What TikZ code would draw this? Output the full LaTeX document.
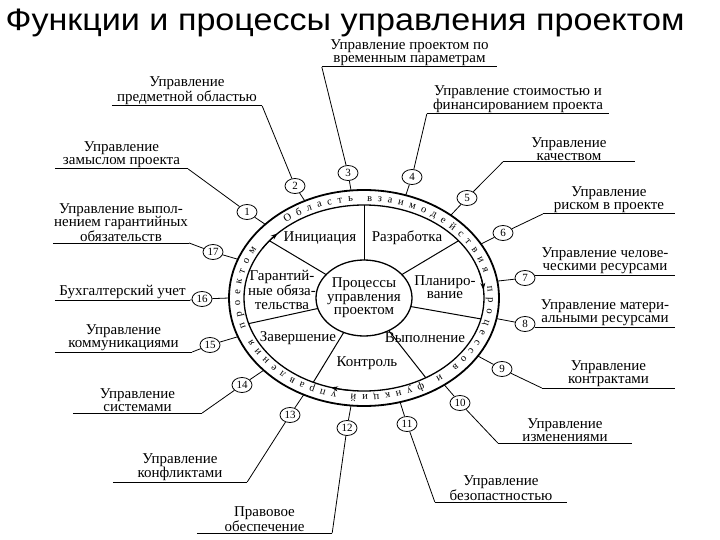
\documentclass[tikz,border=0pt]{standalone}
\usepackage{fontspec}
\setmainfont{Liberation Serif}
\newfontfamily\titlefont{Liberation Sans}[FakeStretch=1.1]
\usetikzlibrary{shapes.geometric,calc,decorations.text,arrows.meta}
\newcommand\ringfnt{\fontsize{10.5}{10.5}\selectfont}

\begin{document}
\begin{tikzpicture}[x=1pt,y=-1pt,
	numcirc/.style={draw,ellipse,line width=0.8pt,inner sep=0pt,minimum width=20,minimum height=15,font=\fontsize{11}{11}\selectfont},
	fnlabel/.style={align=center,inner sep=1pt,anchor=south,font=\fontsize{15}{13.5}\selectfont},
	phase/.style={align=center,inner sep=0pt,font=\fontsize{15}{13.5}\selectfont},
	uline/.style={line width=1pt},
	conn/.style={line width=0.8pt},
	circarrow/.style={line width=1pt,-{Stealth[length=7pt,width=5pt]}}]
	\useasboundingbox (0,0) rectangle (720,540);
	\fill[white] (0,0) rectangle (720,540);
	\node[font=\titlefont\fontsize{31}{31}\selectfont,anchor=base] (title) at (345,31) {Функции и процессы управления проектом};

	\coordinate (C) at (364,298);
	\draw[line width=1.8pt] (C) ellipse [x radius=135,y radius=108];
	\draw[line width=1.3pt] (C) ellipse [x radius=120,y radius=93];
	\draw[line width=1.3pt] (C) ellipse [x radius=48,y radius=38];
	\node[phase] (core) at (C) {Процессы\\управления\\проектом};
	\foreach \a in {270,322,13,59,115,164,218}
		\draw[line width=1pt] ($(C)+(\a:48 and 38)$) -- ($(C)+(\a:120 and 93)$);
	\draw[circarrow] ($(C)+(212:120 and 93)$) arc[start angle=212,end angle=224,x radius=120,y radius=93];
	\draw[circarrow] ($(C)+(343:120 and 93)$) arc[start angle=343,end angle=355,x radius=120,y radius=93];
	\draw[circarrow] ($(C)+(94:120 and 93)$) arc[start angle=94,end angle=106,x radius=120,y radius=93];
	\path[decorate,decoration={text along path,text align={fit to path},
		text={|\ringfnt|Область взаимодействия процессов и функций управления проектом}}]
		($(C)+(231:124 and 97)$) arc[start angle=231,end angle=570,x radius=124,y radius=97];

	\node[phase] (init) at (320,238) {Инициация};
	\node[phase] (dev) at (407,238) {Разработка};
	\node[phase] (plan) at (445,287) {Планиро-\\вание};
	\node[phase] (exec) at (425,338) {Выполнение};
	\node[phase] (ctrl) at (367,363) {Контроль};
	\node[phase] (close) at (298,338) {Завершение};
	\node[phase] (warr) at (282,290) {Гарантий-\\ные обяза-\\тельства};

	\node[numcirc] (n1) at (247,212) {1};
	\node[numcirc] (n2) at (295,186) {2};
	\node[numcirc] (n3) at (348,173) {3};
	\node[numcirc] (n4) at (412,177) {4};
	\node[numcirc] (n5) at (467,198) {5};
	\node[numcirc] (n6) at (503,233) {6};
	\node[numcirc] (n7) at (525,278) {7};
	\node[numcirc] (n8) at (525,324) {8};
	\node[numcirc] (n9) at (502,369) {9};
	\node[numcirc] (n10) at (460,403) {10};
	\node[numcirc] (n11) at (407,424) {11};
	\node[numcirc] (n12) at (347,428) {12};
	\node[numcirc] (n13) at (290,415) {13};
	\node[numcirc] (n14) at (242,385) {14};
	\node[numcirc] (n15) at (210,345) {15};
	\node[numcirc] (n16) at (202,299) {16};
	\node[numcirc] (n17) at (213,252) {17};

	\coordinate (r1) at ($(C)+(223:135 and 108)$);
	\coordinate (r2) at ($(C)+(244:135 and 108)$);
	\coordinate (r3) at ($(C)+(264.5:135 and 108)$);
	\coordinate (r4) at ($(C)+(288:135 and 108)$);
	\coordinate (r5) at ($(C)+(310:135 and 108)$);
	\coordinate (r6) at ($(C)+(330:135 and 108)$);
	\coordinate (r7) at ($(C)+(351:135 and 108)$);
	\coordinate (r8) at ($(C)+(11:135 and 108)$);
	\coordinate (r9) at ($(C)+(32.5:135 and 108)$);
	\coordinate (r10) at ($(C)+(53.5:135 and 108)$);
	\coordinate (r11) at ($(C)+(74.5:135 and 108)$);
	\coordinate (r12) at ($(C)+(95.5:135 and 108)$);
	\coordinate (r13) at ($(C)+(116.5:135 and 108)$);
	\coordinate (r14) at ($(C)+(138:135 and 108)$);
	\coordinate (r15) at ($(C)+(159:135 and 108)$);
	\coordinate (r16) at ($(C)+(180:135 and 108)$);
	\coordinate (r17) at ($(C)+(201:135 and 108)$);
	\foreach \i in {1,...,17}
		\draw[conn] (n\i) -- (r\i);

	\node[fnlabel,minimum width=133] (t1) at (121.5,169) {Управление\\замыслом проекта};
	\node[fnlabel,minimum width=150] (t2) at (187,106) {Управление\\предметной областью};
	\node[fnlabel,minimum width=175] (t3) at (409.5,67) {Управление проектом по\\временным параметрам};
	\node[fnlabel,minimum width=182] (t4) at (518,114) {Управление стоимостью и\\финансированием проекта};
	\node[fnlabel,minimum width=132] (t5) at (569,162) {Управление\\качеством};
	\node[fnlabel,minimum width=132] (t6) at (609,214) {Управление\\риском в проекте};
	\node[fnlabel,minimum width=140] (t7) at (605,275) {Управление челове-\\ческими ресурсами};
	\node[fnlabel,minimum width=140] (t8) at (605,327) {Управление матери-\\альными ресурсами};
	\node[fnlabel,minimum width=133] (t9) at (608.5,388) {Управление\\контрактами};
	\node[fnlabel,minimum width=134] (t10) at (565,443) {Управление\\изменениями};
	\node[fnlabel,minimum width=132] (t11) at (501,502) {Управление\\безопастностью};
	\node[fnlabel,minimum width=135] (t12) at (264.5,533) {Правовое\\обеспечение};
	\node[fnlabel,minimum width=134] (t13) at (180,482) {Управление\\конфликтами};
	\node[fnlabel,minimum width=129] (t14) at (137.5,413) {Управление\\системами};
	\node[fnlabel,minimum width=137] (t15) at (123.5,352) {Управление\\коммуникациями};
	\node[fnlabel,minimum width=135] (t16) at (122.5,300) {Бухгалтерский учет};
	\node[fnlabel,minimum width=132] (t17) at (121,243) {Управление выпол-\\нением гарантийных\\обязательств};
	\foreach \i in {1,...,17}
		\draw[uline] (t\i.south west) -- (t\i.south east);

	\draw[conn] (t1.south east) -- (n1);
	\draw[conn] (t2.south east) -- (n2);
	\draw[conn] (t3.south west) -- (n3);
	\draw[conn] (t4.south west) -- (n4);
	\draw[conn] (t5.south west) -- (n5);
	\draw[conn] (t6.south west) -- (n6);
	\draw[conn] (n7) -- (t7.south west);
	\draw[conn] (n8) -- (t8.south west);
	\draw[conn] (t9.south west) -- (n9);
	\draw[conn] (t10.south west) -- (n10);
	\draw[conn] (t11.south west) -- (n11);
	\draw[conn] (t12.south east) -- (n12);
	\draw[conn] (t13.south east) -- (n13);
	\draw[conn] (t14.south east) -- (n14);
	\draw[conn] (t15.south east) -- (n15);
	\draw[conn] (t16.south east) -- (n16);
	\draw[conn] (t17.south east) -- (n17);
\end{tikzpicture}
\end{document}
